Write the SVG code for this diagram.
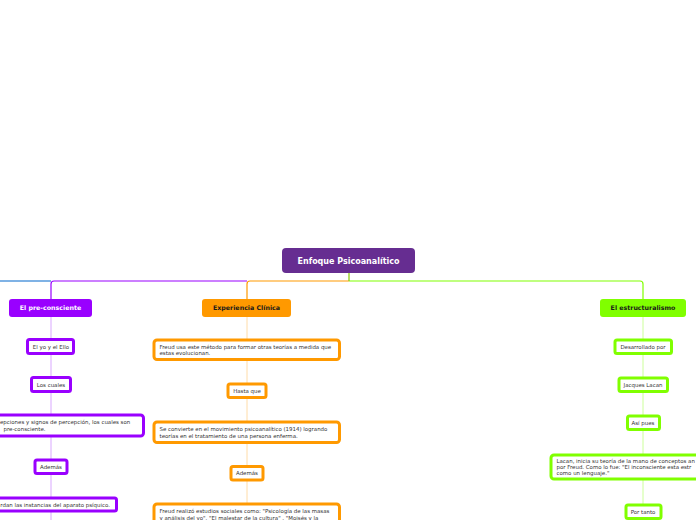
<svg xmlns="http://www.w3.org/2000/svg" width="696" height="520" viewBox="0 0 696 520">
<style>
.t{font-family:"DejaVu Sans",Verdana,sans-serif;font-size:5.45px;fill:#333}
.c{text-anchor:middle}
.h{font-family:"DejaVu Sans",Verdana,sans-serif;font-weight:bold;font-size:6.3px;text-anchor:middle}
.pn{fill:#fff;stroke:#9900FF;stroke-width:3}
.on{fill:#fff;stroke:#FF9900;stroke-width:3}
.gn{fill:#fff;stroke:#80FF00;stroke-width:3}
.ln{fill:none;stroke-width:1.2}
</style>
<rect width="696" height="520" fill="#fff"/>
<g id="connectors">
<path class="ln" d="M51,281 H0" stroke="#0066CC"/>
<path class="ln" d="M247,281 H54 Q51,281 51,284 V299" stroke="#9900FF"/>
<path class="ln" d="M349,281 H250 Q247,281 247,284 V299" stroke="#FF9900"/>
<path class="ln" d="M349,281 H640 Q643,281 643,284 V299" stroke="#80FF00"/>
<path class="ln" d="M349,273 V281" stroke="#88C800"/>
<path d="M51,317 V520" stroke="#D9A8FF" stroke-width="1" fill="none"/>
<path d="M247,317 V520" stroke="#FFDCA8" stroke-width="1" fill="none"/>
<path d="M643,317 V520" stroke="#CCFF99" stroke-width="1" fill="none"/>
</g>
<g id="root">
<rect x="282" y="248" width="133" height="25" rx="4" fill="#662D91"/>
<text x="348.5" y="264" class="h" style="font-size:8px" fill="#fff">Enfoque Psicoanalítico</text>
</g>
<g id="pre-consciente">
<rect x="9" y="299" width="83" height="18" rx="3" fill="#9900FF"/>
<text x="50.5" y="310.3" class="h" fill="#fff">El pre-consciente</text>
</g>
<g id="experiencia">
<rect x="202" y="299" width="89" height="18" rx="3" fill="#FF9900"/>
<text x="246.5" y="310.3" class="h" fill="#1a1a1a">Experiencia Clínica</text>
</g>
<g id="estructuralismo">
<rect x="600" y="299" width="86" height="18" rx="3" fill="#80FF00"/>
<text x="643" y="310.3" class="h" fill="#1a1a1a">El estructuralismo</text>
</g>
<g id="p1"><rect class="pn" x="27.5" y="339.5" width="46" height="14" rx="2"/><text class="t c" x="51" y="348.5">El yo y el Ello</text></g>
<g id="p2"><rect class="pn" x="31.5" y="377.5" width="39" height="14" rx="2"/><text class="t c" x="51" y="386.5">Los cuales</text></g>
<g id="p3"><rect class="pn" x="-42" y="415" width="185.5" height="21" rx="3"/><text class="t" x="0" y="424.3">epciones y signos de percepción, los cuales son</text><text class="t" x="3.5" y="430.7">pre-consciente.</text></g>
<g id="p4"><rect class="pn" x="35" y="460" width="32" height="13.5" rx="2"/><text class="t c" x="51" y="468.7">Además</text></g>
<g id="p5"><rect class="pn" x="-15" y="498" width="131.5" height="13" rx="2"/><text class="t" x="0.3" y="506.5">rdan las instancias del aparato psíquico.</text></g>
<g id="o1"><rect class="on" x="154" y="340" width="185.5" height="19.5" rx="3"/><text class="t" x="159.5" y="348.6">Freud usa este método para formar otras teorías a medida que</text><text class="t" x="159.5" y="355">estas evolucionan.</text></g>
<g id="o2"><rect class="on" x="228" y="384" width="38" height="13.5" rx="2"/><text class="t c" x="247" y="392.7">Hasta que</text></g>
<g id="o3"><rect class="on" x="154" y="422" width="185.5" height="20.5" rx="3"/><text class="t" x="159.5" y="431">Se convierte en el movimiento psicoanalítico (1914) logrando</text><text class="t" x="159.5" y="437.6">teorías en el tratamiento de una persona enferma.</text></g>
<g id="o4"><rect class="on" x="231" y="466.5" width="32" height="13.5" rx="2"/><text class="t c" x="247" y="475.3">Además</text></g>
<g id="o5"><rect class="on" x="154" y="504" width="185.5" height="30" rx="3"/><text class="t" x="159.5" y="513.4">Freud realizó estudios sociales como: "Psicología de las masas</text><text class="t" x="159.5" y="519.6">y análisis del yo". "El malestar de la cultura" , "Moisés y la</text></g>
<g id="g1"><rect class="gn" x="615" y="340" width="56.5" height="13.5" rx="2"/><text class="t c" x="643" y="348.8">Desarrollado por</text></g>
<g id="g2"><rect class="gn" x="619" y="378" width="48.5" height="13.5" rx="2"/><text class="t c" x="643" y="386.8">Jacques Lacan</text></g>
<g id="g3"><rect class="gn" x="627.5" y="416" width="32" height="13.5" rx="2"/><text class="t c" x="643" y="424.8">Así pues</text></g>
<g id="g4"><rect class="gn" x="551" y="455" width="185.5" height="24" rx="3"/><text class="t" x="556.5" y="462.5">Lacan, inicia su teoría de la mano de conceptos an</text><text class="t" x="556.5" y="468.9">por Freud. Como lo fue: "El inconsciente esta estr</text><text class="t" x="556.5" y="475.3">como un lenguaje."</text></g>
<g id="g5"><rect class="gn" x="626" y="505" width="35" height="13.5" rx="2"/><text class="t c" x="643" y="513.8">Por tanto</text></g>
</svg>
